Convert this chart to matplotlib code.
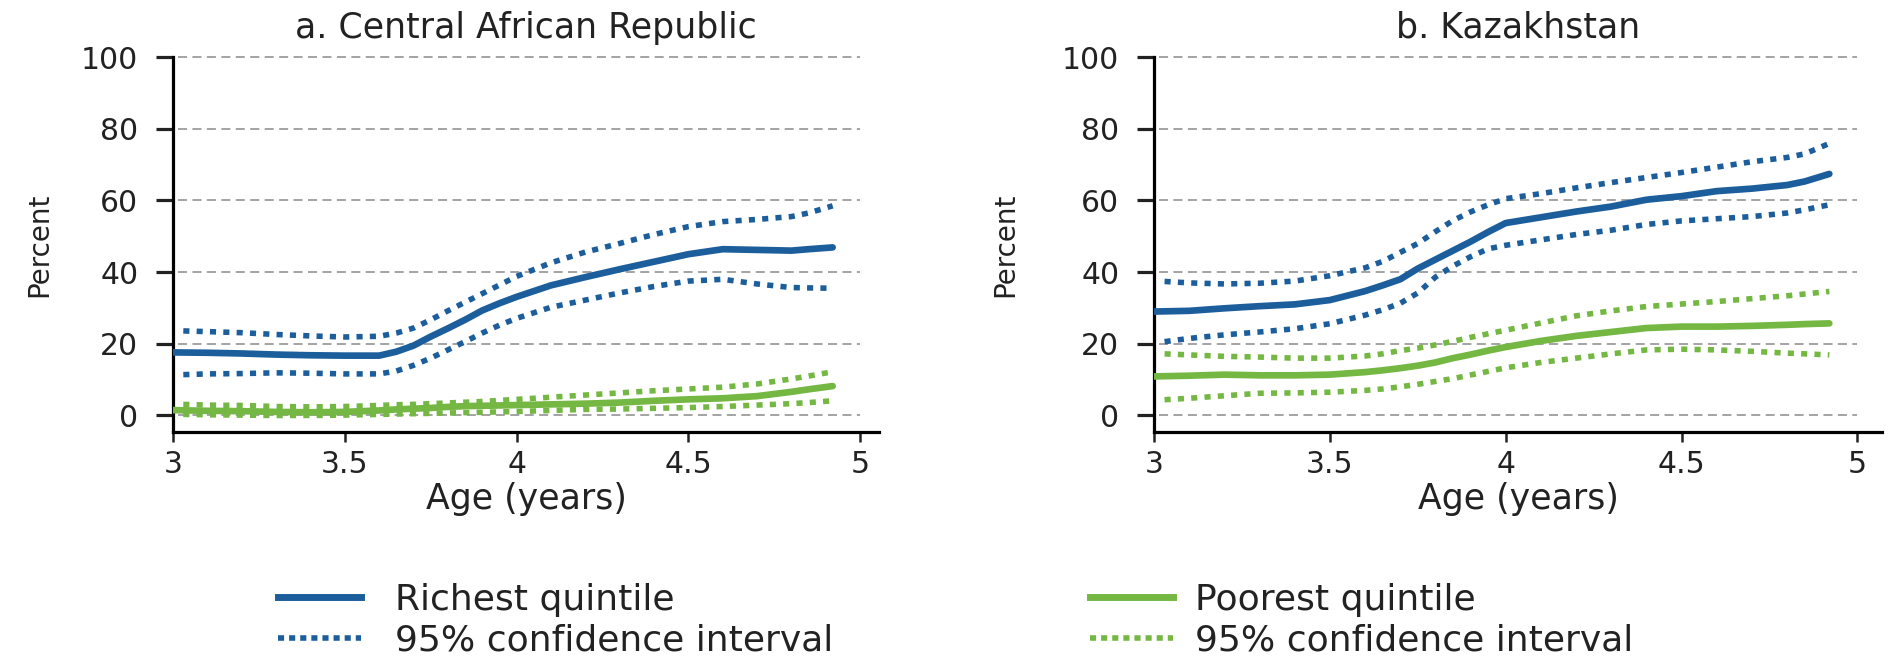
import matplotlib
matplotlib.use("Agg")
import matplotlib.pyplot as plt
from matplotlib import font_manager as fm
from matplotlib.lines import Line2D

# ages (years); the CI curves start a touch later
age = [3.0, 3.1, 3.2, 3.3, 3.4, 3.5, 3.6, 3.65, 3.7, 3.75, 3.8, 3.85, 3.9,
       3.95, 4.0, 4.1, 4.2, 4.3, 4.4, 4.5, 4.6, 4.7, 4.8, 4.85, 4.92]
age_ci = [3.03] + age[1:]

# a. Central African Republic
car_rich = [17.6, 17.5, 17.3, 17.0, 16.8, 16.7, 16.7, 17.8, 19.5, 22.0, 24.3, 26.7, 29.3,
            31.3, 33.1, 36.3, 38.6, 40.8, 42.9, 45.0, 46.4, 46.2, 46.0, 46.4, 46.9]
car_rich_hi = [23.6, 23.4, 23.1, 22.6, 22.2, 21.9, 22.1, 23.0, 24.4, 26.7, 29.2, 31.6, 34.0,
               36.4, 38.8, 42.6, 45.6, 48.0, 50.5, 52.7, 54.1, 54.7, 55.5, 56.5, 58.5]
car_rich_lo = [11.4, 11.6, 11.7, 11.9, 11.8, 11.6, 11.6, 12.4, 14.0, 16.0, 18.3, 20.6, 23.0,
               25.2, 27.1, 30.2, 32.2, 34.2, 36.0, 37.5, 38.0, 36.7, 35.7, 35.6, 35.5]
car_poor = [1.5, 1.3, 1.2, 1.0, 0.9, 1.0, 1.4, 1.7, 1.9, 2.1, 2.4, 2.6, 2.7,
            2.8, 2.9, 3.1, 3.3, 3.6, 4.1, 4.5, 4.8, 5.4, 6.6, 7.3, 8.2]
car_poor_hi = [3.1, 2.9, 2.8, 2.5, 2.4, 2.5, 2.8, 3.0, 3.1, 3.3, 3.5, 3.7, 3.9,
               4.2, 4.5, 5.1, 5.7, 6.3, 6.9, 7.4, 7.9, 8.8, 10.2, 11.0, 12.2]
car_poor_lo = [0.3, 0.2, 0.1, 0.0, 0.0, 0.1, 0.3, 0.4, 0.5, 0.6, 0.7, 0.8, 0.9,
               1.0, 1.1, 1.4, 1.7, 1.8, 2.0, 2.2, 2.5, 2.9, 3.3, 3.6, 4.1]

# b. Kazakhstan
kaz_rich = [29.0, 29.2, 29.9, 30.5, 31.0, 32.2, 34.7, 36.3, 38.0, 41.0, 43.5, 46.0, 48.5,
            51.2, 53.7, 55.3, 56.9, 58.3, 60.2, 61.2, 62.6, 63.3, 64.3, 65.3, 67.4]
kaz_rich_hi = [37.4, 37.0, 36.7, 36.9, 37.5, 39.0, 41.2, 43.0, 45.5, 48.0, 51.3, 54.4, 56.8,
               58.8, 60.5, 61.9, 63.5, 65.0, 66.4, 67.8, 69.3, 70.8, 72.0, 73.0, 75.9]
kaz_rich_lo = [20.6, 21.5, 22.5, 23.3, 24.2, 25.6, 28.0, 29.5, 31.3, 34.2, 38.6, 41.7, 44.3,
               46.5, 47.5, 49.0, 50.5, 51.7, 53.3, 54.3, 54.9, 55.5, 56.5, 57.4, 58.8]
kaz_poor = [10.9, 11.1, 11.4, 11.2, 11.2, 11.4, 12.1, 12.6, 13.2, 13.9, 14.8, 16.0, 17.0,
            18.1, 19.1, 20.8, 22.2, 23.3, 24.4, 24.8, 24.8, 25.0, 25.3, 25.5, 25.7]
kaz_poor_hi = [17.2, 16.9, 16.5, 16.3, 16.0, 16.0, 16.6, 17.2, 18.1, 18.8, 19.7, 20.7, 21.8,
               22.8, 23.8, 25.8, 27.8, 29.2, 30.4, 31.1, 31.8, 32.6, 33.4, 33.9, 34.6]
kaz_poor_lo = [4.4, 4.8, 5.5, 6.2, 6.3, 6.5, 7.0, 7.4, 8.0, 8.7, 9.5, 10.3, 11.3,
               12.3, 13.3, 14.8, 16.0, 17.2, 18.3, 18.5, 18.3, 17.9, 17.4, 17.2, 16.9]

titles = ["a. Central African Republic", "b. Kazakhstan"]
yticks = [0, 20, 40, 60, 80, 100]
xticks = [3, 3.5, 4, 4.5, 5]
xticklabels = ["3", "3.5", "4", "4.5", "5"]

BLUE = "#1c5e9c"
GREEN = "#74b843"
GRID = "#9c9c9c"
INK = "#222222"
DOT = (0, (1.1, 1.3))

plt.rcParams["font.family"] = ["DejaVu Sans"]

# the y label is set in a narrow face in the original
installed = {f.name for f in fm.fontManager.ttflist}
if "Liberation Sans Narrow" in installed:
    ylab_family, ylab_size = ["Liberation Sans Narrow", "DejaVu Sans"], 24
else:
    ylab_family, ylab_size = ["DejaVu Sans"], 20

fig = plt.figure(figsize=(18.99, 6.6), dpi=100)
ax1 = fig.add_axes([0.0911, 0.3455, 0.3718, 0.568])
ax2 = fig.add_axes([0.6077, 0.3455, 0.3834, 0.568])

panels = [
    (ax1, car_rich, car_rich_hi, car_rich_lo, car_poor, car_poor_hi, car_poor_lo, 5.055, -0.17),
    (ax2, kaz_rich, kaz_rich_hi, kaz_rich_lo, kaz_poor, kaz_poor_hi, kaz_poor_lo, 5.07, -0.185),
]

for i, (ax, r, rh, rl, p, ph, pl, xmax, ylab_x) in enumerate(panels):
    ax.hlines(yticks, 3.015, 5.0, colors=GRID, linestyles=(0, (5, 3)), lw=1.3,
              zorder=1, clip_on=False)
    ax.plot(age_ci, rh, color=BLUE, lw=4, ls=DOT, zorder=3)
    ax.plot(age_ci, rl, color=BLUE, lw=4, ls=DOT, zorder=3)
    ax.plot(age, r, color=BLUE, lw=4.8, solid_capstyle="round", zorder=4)
    ax.plot(age_ci, ph, color=GREEN, lw=4, ls=DOT, zorder=3)
    ax.plot(age_ci, pl, color=GREEN, lw=4, ls=DOT, zorder=3)
    ax.plot(age, p, color=GREEN, lw=4.8, solid_capstyle="round", zorder=4)

    ax.set_xlim(3, xmax)
    ax.set_ylim(-4.6, 100)
    ax.set_xticks(xticks)
    ax.set_xticklabels(xticklabels)
    ax.set_yticks(yticks)
    for s in ["top", "right"]:
        ax.spines[s].set_visible(False)
    ax.spines["left"].set_linewidth(2.3)
    ax.spines["bottom"].set_linewidth(2.3)
    ax.tick_params(axis="y", direction="out", length=12, width=2.3, pad=13,
                   labelsize=21.5, colors=INK)
    ax.tick_params(axis="x", direction="out", length=7, width=1.8, pad=6,
                   labelsize=21.5, colors=INK)
    ax.set_xlabel("Age (years)", fontsize=25, labelpad=2, color=INK)
    ax.set_ylabel("Percent", family=ylab_family, fontsize=ylab_size, color=INK)
    ax.yaxis.set_label_coords(ylab_x, 0.5)
    ax.set_title(titles[i], fontsize=25, pad=14, color=INK)

h_rich = Line2D([], [], color=BLUE, lw=5)
h_rich_ci = Line2D([], [], color=BLUE, lw=4, ls=(0, (1.1, 0.9)))
h_poor = Line2D([], [], color=GREEN, lw=5)
h_poor_ci = Line2D([], [], color=GREEN, lw=4, ls=(0, (1.1, 0.9)))

leg_kw = dict(loc="center left", frameon=False, fontsize=26, handlelength=2.3,
              labelspacing=0.18, borderpad=0, borderaxespad=0, labelcolor=INK)
fig.legend([h_rich, h_rich_ci], ["Richest quintile", "95% confidence interval"],
           bbox_to_anchor=(278 / 1899, 1 - 620 / 660), handletextpad=0.95, **leg_kw)
fig.legend([h_poor, h_poor_ci], ["Poorest quintile", "95% confidence interval"],
           bbox_to_anchor=(1090 / 1899, 1 - 620 / 660), handletextpad=0.6, **leg_kw)

fig.savefig("out.png", dpi=100)
